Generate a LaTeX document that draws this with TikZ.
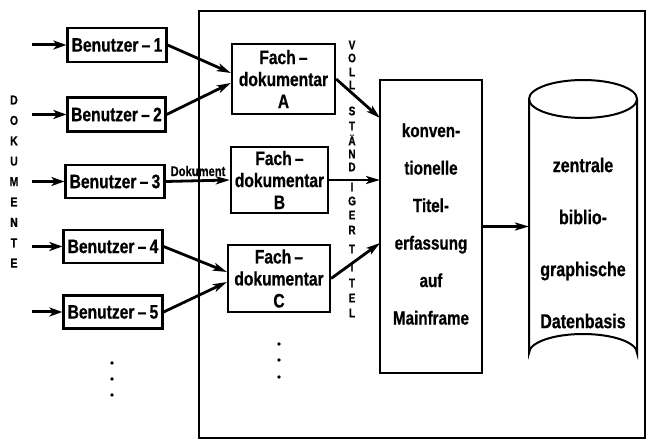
\documentclass[tikz,border=0pt]{standalone}
\usepackage{fontspec}
\setmainfont{Liberation Sans}[FakeStretch=0.8, BoldFeatures={FakeBold=0.6}]
\usetikzlibrary{arrows.meta}
\begin{document}
\begin{tikzpicture}[x=1pt,y=-1pt,
  box/.style={draw, line width=2.2pt, inner sep=0pt, align=center,
    font=\bfseries\fontsize{19.5}{22}\selectfont},
  arr/.style={-{Stealth[length=14pt,width=8pt,inset=3.5pt]}, line width=2.8pt},
  inarr/.style={-{Stealth[length=13pt,width=9pt,inset=3.5pt]}, line width=3pt},
  vl/.style={inner sep=0pt, font=\bfseries\fontsize{12.5}{12.5}\selectfont},
  dl/.style={inner sep=0pt, font=\bfseries\fontsize{13}{13}\selectfont},
  dot/.style={circle, fill, inner sep=0pt, minimum size=3.8pt}
]
\useasboundingbox (0,0) rectangle (648,443);
% outer frame
\draw[line width=2.2pt] (199,11) rectangle (645,438);

% Benutzer boxes
\node[box, minimum width=99pt, minimum height=34pt] (b1) at (117,45) {Benutzer\,–\,1};
\node[box, minimum width=98pt, minimum height=34pt] (b2) at (116.5,114.5) {Benutzer\,–\,2};
\node[box, minimum width=99pt, minimum height=33pt] (b3) at (115,181.5) {Benutzer\,–\,3};
\node[box, minimum width=99pt, minimum height=33pt] (b4) at (113,246.5) {Benutzer\,–\,4};
\node[box, minimum width=99pt, minimum height=33pt] (b5) at (113,312) {Benutzer\,–\,5};

% input arrows
\foreach \n/\yy in {1/45,2/114.5,3/181.5,4/246.5,5/312}{
  \coordinate (in\n) at (32,\yy);
  \draw[inarr] (in\n) -- (b\n.west);
}

% DOKUMENTE
\foreach \l [count=\i] in {D,O,K,U,M,E,N,T,E}{
  \node[dl] (d\i) at (14,{100+20.4*(\i-1)}) {\l};
}

% left dots
\node[dot] (ld1) at (112,363) {};
\node[dot] (ld2) at (112,379) {};
\node[dot] (ld3) at (112,395) {};

% Fachdokumentar boxes
\node[box, minimum width=103pt, minimum height=70pt] (fa) at (283.5,79) {Fach\,–\\dokumentar\\A};
\node[box, minimum width=97pt, minimum height=66pt] (fb) at (279.5,180) {Fach\,–\\dokumentar\\B};
\node[box, minimum width=102pt, minimum height=67pt] (fc) at (279,278.5) {Fach\,–\\dokumentar\\C};

% middle dots
\node[dot] (md1) at (279,344) {};
\node[dot] (md2) at (279,360) {};
\node[dot] (md3) at (279,377) {};

% arrows Benutzer -> Fachdokumentar
\draw[arr] (b1.east) -- ([yshift=6pt]fa.west);
\draw[arr] (b2.east) -- ([yshift=-4pt]fa.west);
\draw[arr] (b3.east) -- (fb.west);
\node[inner sep=0pt, font=\bfseries\fontsize{14}{14}\selectfont] (dok) at (198,171) {Dokument};
\draw[arr] (b4.east) -- ([yshift=6.5pt]fc.west);
\draw[arr] (b5.east) -- ([yshift=-3.5pt]fc.west);

% vertical label
\foreach \l/\yy [count=\i] in {V/45,O/58,L/72,L/85,S/111,T/126,Ä/140,N/154,D/167,I/187,G/201,E/215,R/230,T/249,I/267,T/283,E/298,L/313}{
  \node[vl] (v\i) at (352,\yy) {\l};
}

% Mainframe box
\node[box, minimum width=102pt, minimum height=293pt] (m) at (431,226.5) {};
\node[inner sep=0pt, align=center, font=\bfseries\fontsize{19}{37.5}\selectfont] (mt) at (431,224) {konven-\\tionelle\\Titel-\\erfassung\\auf\\Mainframe};
\coordinate (m1) at (380,118);
\coordinate (m2) at (380,180);
\coordinate (m3) at (380,243);
\draw[arr] (fa.east) -- (m1);
\draw[arr] (fb.east) -- (m2);
\draw[arr] (fc.east) -- (m3);

% cylinder
\draw[line width=2pt] (529,99) -- (529,353) arc[start angle=180, end angle=360, x radius=54, y radius=19] -- (637,99);
\draw[line width=2pt] (583,99) ellipse[x radius=54, y radius=19];
\node[inner sep=0pt, align=center, font=\bfseries\fontsize{20}{52}\selectfont] (db) at (583,243) {zentrale\\biblio-\\graphische\\Datenbasis};
\coordinate (dbw) at (529,226.5);
\draw[arr] (m.east) -- (dbw);
\end{tikzpicture}
\end{document}
